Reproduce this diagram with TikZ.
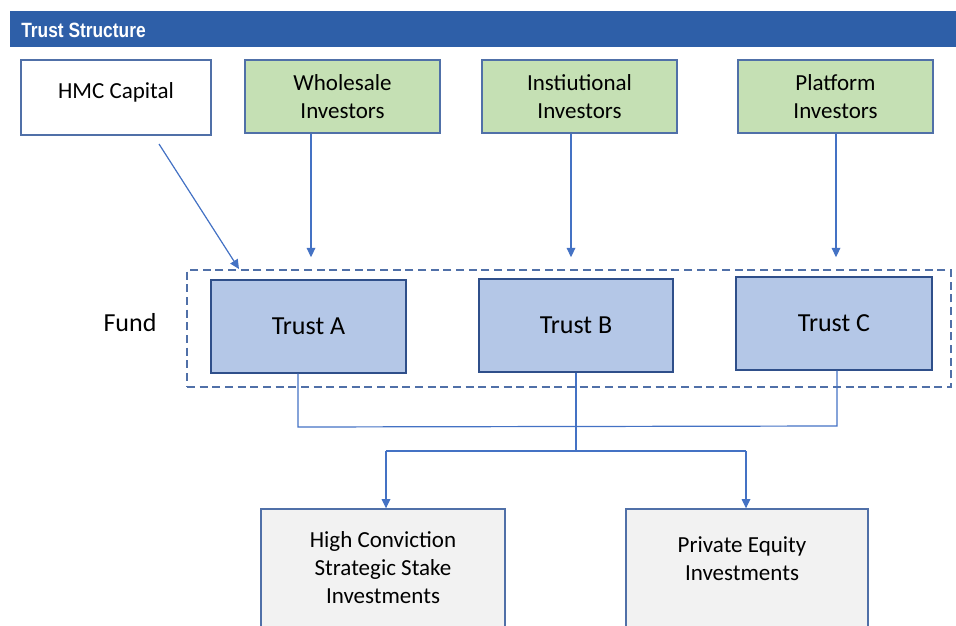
\documentclass[tikz,border=0pt]{standalone}
\usepackage{fontspec}
\setmainfont{Carlito}
\newfontfamily\headfont[FakeStretch=0.84]{Liberation Sans}
\usetikzlibrary{arrows.meta,calc}

\definecolor{hdrblue}{HTML}{2E5FA8}
\definecolor{edgeblue}{HTML}{5070A8}
\definecolor{trustedge}{HTML}{2F4F8A}
\definecolor{linkblue}{HTML}{4472C4}
\definecolor{investgreen}{HTML}{C5E0B4}
\definecolor{trustfill}{HTML}{B4C7E7}
\definecolor{assetgrey}{HTML}{F2F2F2}

\tikzset{
  plainbox/.style={draw=edgeblue, line width=1pt, inner sep=0pt, align=center,
    font=\fontsize{17.25}{21}\selectfont},
  investorbox/.style={plainbox, fill=investgreen},
  trustbox/.style={draw=trustedge, line width=1pt, fill=trustfill, inner sep=0pt,
    font=\fontsize{19.5}{23}\selectfont},
  assetbox/.style={plainbox, fill=assetgrey},
  fundframe/.style={draw=edgeblue, line width=1.2pt, dash pattern=on 6pt off 3.5pt},
  link/.style={draw=linkblue, line width=0.9pt},
  flow/.style={link, -{Triangle[width=6.5pt,length=7pt]}},
}

\begin{document}
\begin{tikzpicture}[x=0.75pt,y=-0.75pt]
\useasboundingbox (0,0) rectangle (956,625);

% header bar
\fill[hdrblue] (10,11) rectangle (956,47);
\node[anchor=west, text=white, inner sep=0pt,
  font=\headfont\bfseries\fontsize{15.5}{17}\selectfont] (title) at (21,30) {Trust Structure};

% top row: capital and investor groups
\node[plainbox, fill=white, minimum width={190*0.75pt}, minimum height={75*0.75pt}]
  (hmc) at (116,97.5) {\raisebox{-1.1pt}[0pt][0pt]{HMC Capital}};
\node[investorbox, minimum width={195*0.75pt}, minimum height={73*0.75pt}]
  (wholesale) at (342.5,96.5) {Wholesale\\Investors};
\node[investorbox, minimum width={195*0.75pt}, minimum height={73*0.75pt}]
  (inst) at (579.5,96.5) {Instiutional\\Investors};
\node[investorbox, minimum width={195*0.75pt}, minimum height={73*0.75pt}]
  (platform) at (835.5,96.5) {Platform\\Investors};

% fund frame and trusts
\node[fundframe, minimum width={764*0.75pt}, minimum height={117*0.75pt}]
  (fund) at (569,328.5) {};
\node[font=\fontsize{19.5}{23}\selectfont] (fundlabel) at (130,323) {Fund};
\node[trustbox, minimum width={195*0.75pt}, minimum height={93*0.75pt}]
  (trustA) at (308.5,326.5) {Trust A};
\node[trustbox, minimum width={194*0.75pt}, minimum height={93*0.75pt}]
  (trustB) at (576,325.5) {Trust B};
\node[trustbox, minimum width={196*0.75pt}, minimum height={93*0.75pt}]
  (trustC) at (834,323.5) {Trust C};

% investment boxes (run past the lower edge)
\node[assetbox, minimum width={244*0.75pt}, minimum height={140*0.75pt}]
  (hcs) at (383,579) {};
\node[plainbox, draw=none, anchor=north] (hcstext) at (383,531)
  {High Conviction\\Strategic Stake\\Investments};
\node[assetbox, minimum width={242*0.75pt}, minimum height={140*0.75pt}]
  (pe) at (747,579) {};
\node[plainbox, draw=none, anchor=north] (petext) at (742,536)
  {Private Equity\\Investments};

% flows into the fund
\coordinate (hmcfrom) at (159,144);
\coordinate (hmcto) at (239,269);
\draw[flow] (hmcfrom) -- (hmcto);
\coordinate (wx) at (311,0);
\coordinate (ix) at (571,0);
\coordinate (px) at (836,0);
\draw[flow, shorten >=9pt] (wx |- wholesale.south) -- (wx |- fund.north);
\draw[flow, shorten >=9pt] (ix |- inst.south) -- (ix |- fund.north);
\draw[flow, shorten >=9pt] (px |- platform.south) -- (px |- fund.north);

% trusts joined below the fund
\coordinate (ja) at (298,427);
\coordinate (jc) at (837,426);
\draw[link] (ja |- trustA.south) -- (ja) -- (jc) -- (jc |- trustC.south);
\coordinate (jb) at (576,451);
\draw[link] (trustB.south) -- (jb);
\coordinate (jl) at (386,451);
\coordinate (jr) at (746,451);
\draw[link] (jl) -- (jr);
\draw[flow] (jl) -- (jl |- hcs.north);
\draw[flow] (jr) -- (jr |- pe.north);
\end{tikzpicture}
\end{document}
